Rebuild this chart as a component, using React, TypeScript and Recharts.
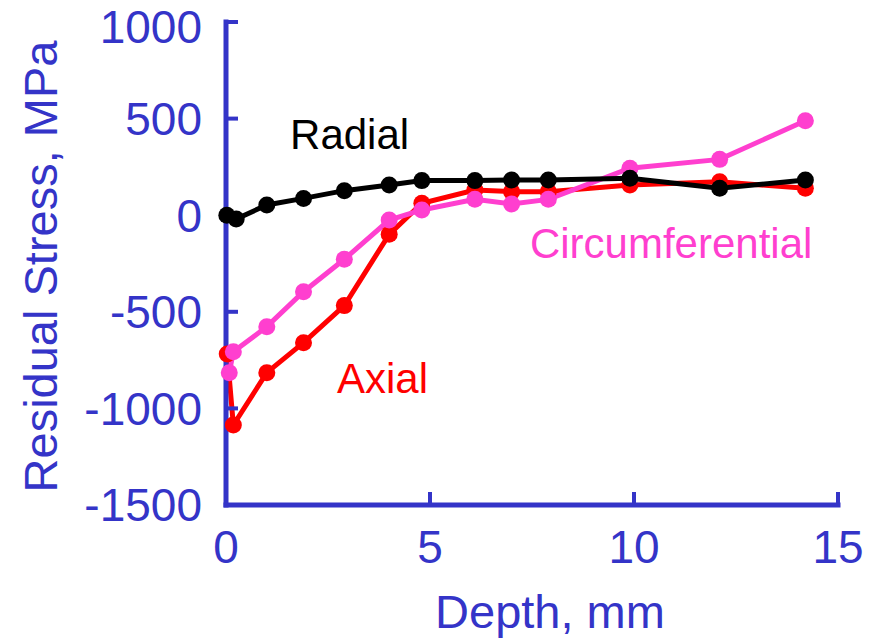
import React from "react";
import { LineChart, Line, XAxis, YAxis, ReferenceDot } from "recharts";

const BLUE = "#3434c8";
const FONT = "'Liberation Sans', Arial, sans-serif";

// depth (mm) and residual stress (MPa) for each direction
const axialDepth = [0.03, 0.18, 1.0, 1.9, 2.9, 4.0, 4.8, 6.1, 7.0, 7.9, 9.9, 12.1, 14.2];
const axialStress = [-718, -1086, -815, -660, -468, -99, 62, 130, 122, 122, 156, 173, 139];

const circDepth = [0.08, 0.18, 1.0, 1.9, 2.9, 4.0, 4.8, 6.1, 7.0, 7.9, 9.9, 12.1, 14.2];
const circStress = [-815, -707, -577, -396, -228, -25, 27, 82, 58, 82, 243, 289, 489];

const radialDepth = [0.02, 0.25, 1.0, 1.9, 2.9, 4.0, 4.8, 6.1, 7.0, 7.9, 9.9, 12.1, 14.2];
const radialStress = [0, -20, 53, 87, 127, 156, 179, 179, 182, 182, 191, 139, 182];

const xTicks = [0, 5, 10, 15];
const yTicks = [-1500, -1000, -500, 0, 500, 1000];

// in-plot annotations: [text, depth, stress, colour]
const notes: [string, number, number, string][] = [
  ["Radial", 1.57, 343, "#000000"],
  ["Circumferential", 7.45, -222, "#ff3fcf"],
  ["Axial", 2.72, -920, "#ff0000"],
];

const toPoints = (xs: number[], ys: number[]) => xs.map((x, i) => ({ depth: x, stress: ys[i] }));

export default function App() {
  const series = [
    { name: "Axial", data: toPoints(axialDepth, axialStress), color: "#ff0000" },
    { name: "Circumferential", data: toPoints(circDepth, circStress), color: "#ff3fcf" },
    { name: "Radial", data: toPoints(radialDepth, radialStress), color: "#000000" },
  ];

  const axisLine = { stroke: BLUE, strokeWidth: 5, strokeLinecap: "square" as const };
  const tickStyle = { fill: BLUE, fontSize: 46, fontFamily: FONT };

  return (
    <div style={{ position: "absolute", left: 0, top: 0, background: "#fff" }}>
      <LineChart width={889} height={640} margin={{ top: 22, right: 51, bottom: 0, left: 0 }} style={{ fontFamily: FONT }}>
        <XAxis
          type="number"
          dataKey="depth"
          domain={[0, 15]}
          ticks={xTicks}
          height={135}
          axisLine={axisLine}
          tickLine={{ stroke: BLUE, strokeWidth: 4 }}
          tickSize={-13}
          tickMargin={38}
          tick={tickStyle}
          label={{
            content: (p: any) => (
              <text
                x={p.viewBox.x + p.viewBox.width / 2 + 18}
                y={p.viewBox.y + 123}
                textAnchor="middle"
                fill={BLUE}
                fontSize={47}
                fontFamily={FONT}
              >
                Depth, mm
              </text>
            ),
          }}
        />
        <YAxis
          type="number"
          domain={[-1500, 1000]}
          ticks={yTicks}
          width={226}
          axisLine={axisLine}
          tickLine={{ stroke: BLUE, strokeWidth: 4 }}
          tickSize={-12}
          tickMargin={36}
          tick={tickStyle}
          label={{
            content: (p: any) => {
              const cx = p.viewBox.x + 57;
              const cy = p.viewBox.y + p.viewBox.height / 2 + 3;
              return (
                <text
                  x={cx}
                  y={cy}
                  transform={`rotate(-90 ${cx} ${cy})`}
                  textAnchor="middle"
                  fill={BLUE}
                  fontSize={47}
                  fontFamily={FONT}
                >
                  Residual Stress, MPa
                </text>
              );
            },
          }}
        />
        {series.map((s) => (
          <Line
            key={s.name}
            data={s.data}
            dataKey="stress"
            type="linear"
            stroke={s.color}
            strokeWidth={5}
            dot={{ r: 8.5, fill: s.color, stroke: "none" }}
            activeDot={false}
            isAnimationActive={false}
          />
        ))}
        {notes.map(([label, x, y, color]) => (
          <ReferenceDot
            key={label}
            x={x}
            y={y}
            r={0}
            shape={(p: any) => (
              <text x={p.cx} y={p.cy} fill={color} fontSize={42} fontFamily={FONT}>
                {label}
              </text>
            )}
          />
        ))}
      </LineChart>
    </div>
  );
}
